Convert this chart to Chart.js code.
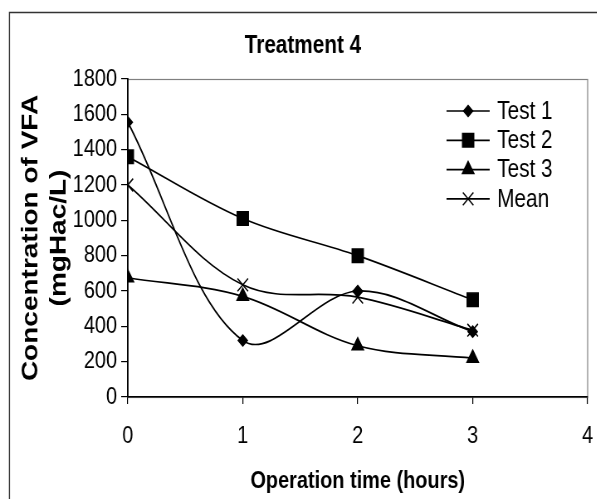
<!DOCTYPE html>
<html>
<head>
<meta charset="utf-8">
<title>Treatment 4</title>
<script src="https://cdn.jsdelivr.net/npm/chart.js@4.4.1/dist/chart.umd.min.js"></script>
<style>
    html, body { margin: 0; padding: 0; background: #fff; overflow: hidden; }
    #wrap { width: 597px; height: 499px; overflow: hidden; }
    /* a figura original é comprimida na horizontal */
    #vfaChart { display: block; transform: scaleX(0.83); transform-origin: 0 0; }
</style>
</head>
<body>
<div id="wrap">
    <canvas id="vfaChart" width="719" height="499" style="width:719px;height:499px"></canvas>
</div>
<script>
// Dados do gráfico
const horas = [0, 1, 2, 3];
const teste1 = [1555, 320, 600, 370];
const teste2 = [1360, 1010, 800, 550];
const teste3 = [675, 570, 290, 220];
const media = [1200, 635, 565, 378];
const nomesSeries = ['Test 1', 'Test 2', 'Test 3', 'Mean'];
const ticksY = [0, 200, 400, 600, 800, 1000, 1200, 1400, 1600, 1800];
const ticksX = [0, 1, 2, 3, 4];

const fonte = "'Liberation Sans', Arial, sans-serif";

function pontos(valores) {
    return horas.map((h, i) => ({ x: h, y: valores[i] }));
}

function serie(label, valores, estilo, raio) {
    return {
        label: label,
        data: pontos(valores),
        borderColor: '#000',
        backgroundColor: '#000',
        borderWidth: 1.7,
        pointStyle: estilo,
        pointRadius: raio,
        pointHoverRadius: raio,
        pointBackgroundColor: '#000',
        pointBorderColor: '#000',
        pointBorderWidth: 1.5,
        tension: 0.35,
        fill: false
    };
}

// Fundo, moldura externa e borda da área do gráfico
const molduraPlugin = {
    id: 'moldura',
    beforeDraw(chart) {
        const ctx = chart.ctx;
        const a = chart.chartArea;
        ctx.save();
        ctx.fillStyle = '#fff';
        ctx.fillRect(0, 0, chart.width, chart.height);
        ctx.strokeStyle = '#333';
        ctx.lineWidth = 1.4;
        ctx.beginPath();
        ctx.moveTo(11.4, chart.height + 2);
        ctx.lineTo(11.4, 12.5);
        ctx.lineTo(chart.width + 2, 12.5);
        ctx.stroke();
        ctx.strokeStyle = '#808080';
        ctx.lineWidth = 1.2;
        ctx.strokeRect(a.left, a.top + 0.5, a.right - a.left, a.bottom - a.top);
        ctx.restore();
    }
};

// Legenda estilo Excel dentro da área do gráfico
const legendaPlugin = {
    id: 'legendaExcel',
    afterDraw(chart) {
        const ctx = chart.ctx;
        const x0 = 538, x1 = 590, xm = 564, xt = 599;
        ctx.save();
        chart.data.datasets.forEach((ds, i) => {
            const y = 111 + i * 29.3;
            ctx.strokeStyle = '#000';
            ctx.lineWidth = 1.7;
            ctx.beginPath();
            ctx.moveTo(x0, y);
            ctx.lineTo(x1, y);
            ctx.stroke();
            ctx.fillStyle = '#000';
            ctx.lineWidth = 1.5;
            Chart.helpers.drawPoint(ctx, {
                pointStyle: ds.pointStyle,
                radius: ds.pointRadius,
                rotation: 0,
                borderWidth: 1.5
            }, xm, y);
            ctx.font = '25px ' + fonte;
            ctx.textBaseline = 'middle';
            ctx.textAlign = 'left';
            ctx.fillText(ds.label, xt, y + 1);
        });
        ctx.restore();
    }
};

new Chart(document.getElementById('vfaChart'), {
    type: 'line',
    data: {
        datasets: [
            serie(nomesSeries[0], teste1, 'rectRot', 5.5),
            serie(nomesSeries[1], teste2, 'rect', 9.5),
            serie(nomesSeries[2], teste3, 'triangle', 8),
            serie(nomesSeries[3], media, 'crossRot', 9)
        ]
    },
    options: {
        responsive: false,
        animation: false,
        devicePixelRatio: 1,
        layout: { padding: { left: 18, right: 7, top: 0, bottom: 0 } },
        plugins: {
            legend: { display: false },
            tooltip: { enabled: false },
            title: {
                display: true,
                text: 'Treatment 4',
                color: '#000',
                font: { family: fonte, size: 25, weight: 'bold', lineHeight: 1.2 },
                padding: { top: 31, bottom: 18 }
            }
        },
        scales: {
            x: {
                type: 'linear',
                min: 0,
                max: 4,
                afterBuildTicks: (s) => { s.ticks = ticksX.map(v => ({ value: v })); },
                afterFit: (s) => { s.height = 102; },
                ticks: {
                    color: '#000',
                    padding: 0,
                    callback: (v) => String(v),
                    font: { family: fonte, size: 24, lineHeight: 2.7 }
                },
                grid: { drawOnChartArea: false, drawTicks: true, tickLength: 7, color: '#000', lineWidth: 1.2 },
                border: { display: true, color: '#000', width: 1.5 },
                title: {
                    display: true,
                    text: 'Operation time (hours)',
                    color: '#000',
                    font: { family: fonte, size: 24, weight: 'bold', lineHeight: 1.2 },
                    padding: { top: 0, bottom: 3 }
                }
            },
            y: {
                min: 0,
                max: 1800,
                afterBuildTicks: (s) => { s.ticks = ticksY.map(v => ({ value: v })); },
                afterFit: (s) => { s.width = 136; },
                ticks: {
                    color: '#000',
                    padding: 5,
                    callback: (v) => String(v),
                    font: { family: fonte, size: 24, lineHeight: 1.2 }
                },
                grid: { drawOnChartArea: false, drawTicks: true, tickLength: 8, color: '#000', lineWidth: 1.2 },
                border: { display: true, color: '#000', width: 1.8 },
                title: {
                    display: true,
                    text: ['Concentration of VFA', '(mgHac/L)'],
                    color: '#000',
                    font: { family: fonte, size: 28, weight: 'bold', lineHeight: 1.21 },
                    padding: { top: 2, bottom: 0 }
                }
            }
        }
    },
    plugins: [molduraPlugin, legendaPlugin]
});
</script>
</body>
</html>
